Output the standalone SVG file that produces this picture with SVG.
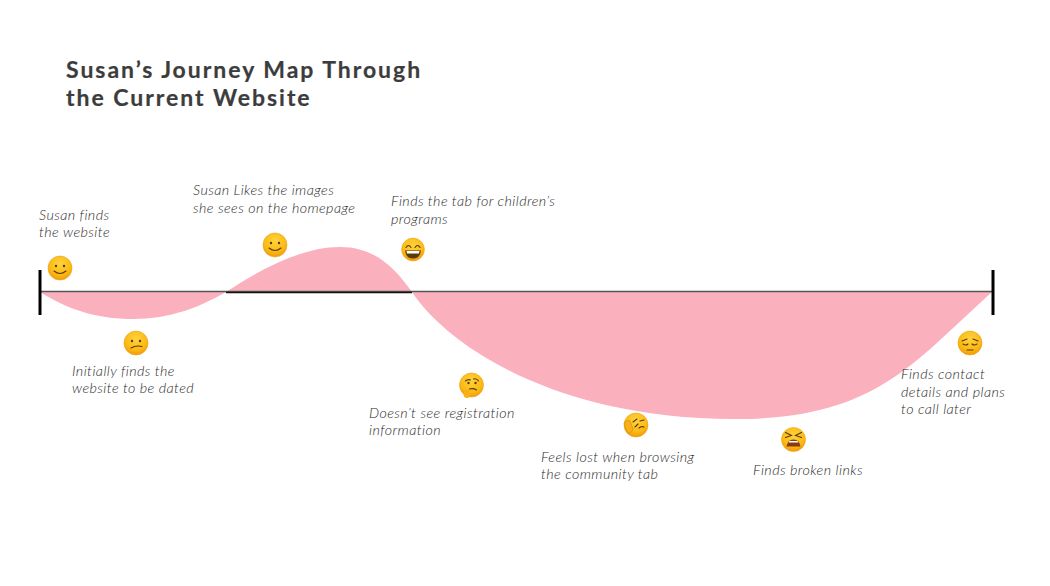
<svg xmlns="http://www.w3.org/2000/svg" width="1050" height="586" viewBox="0 0 1050 586">
<style>
.t{font-family:Lato,"Open Sans",sans-serif;font-size:23px;font-weight:700;fill:#3c3c3c;letter-spacing:1.97px;stroke:#3c3c3c;stroke-width:.2px}
.l{font-family:Lato,"Open Sans",sans-serif;font-size:14.3px;font-weight:300;font-style:italic;fill:#2a2a2a;letter-spacing:.42px}
.face{fill:url(#g);stroke:#eda312;stroke-width:.6}
.e{fill:#5a3a0c}
.s{fill:none;stroke:#5a3a0c;stroke-width:1.1;stroke-linecap:round}
</style>
<defs>
<radialGradient id="g" cx=".5" cy=".32" r=".72"><stop offset="0" stop-color="#ffd23e"/><stop offset=".65" stop-color="#fbb914"/><stop offset="1" stop-color="#ef9408"/></radialGradient>
<circle id="c" r="12" class="face"/>
</defs>
<rect width="1050" height="586" fill="#fff"/>
<g id="curve">
<path fill="#fbb0bd" d="M40 292C70 311 100 319 133 319C170 319 200 307 226 292C265 266 305 247 340 247C375 247 395 268 412 292C447 345 555 419 735 419C875 419 912 364 992 292Z"/>
</g>
<g id="connectors">
<line x1="40" y1="291.5" x2="992" y2="291.5" stroke="#555" stroke-width="1.3"/>
<line x1="226" y1="292.5" x2="412" y2="292.5" stroke="#111" stroke-width="1.6"/>
<line x1="40" y1="270" x2="40" y2="315" stroke="#000" stroke-width="3"/>
<line x1="993" y1="270" x2="993" y2="315" stroke="#000" stroke-width="3"/>
</g>
<g id="title"><text class="t" x="66" y="78">Susan’s Journey Map Through</text><text class="t" x="66" y="106">the Current Website</text></g>
<g id="n1"><text class="l" x="39" y="220">Susan finds</text><text class="l" x="39" y="237">the website</text>
<g transform="translate(60,268)"><use href="#c"/><circle class="e" cx="-4" cy="-2" r="1.2"/><circle class="e" cx="4" cy="-2" r="1.2"/><path class="s" d="M-6 3Q0 8 6 3"/></g></g>
<g id="n2"><text class="l" x="72" y="376">Initially finds the</text><text class="l" x="72" y="393">website to be dated</text>
<g transform="translate(136,343)"><use href="#c"/><circle class="e" cx="-4" cy="-2" r="1.2"/><circle class="e" cx="4" cy="-2" r="1.2"/><path class="s" d="M-5 5Q0 2 6 3.500"/></g></g>
<g id="n3"><text class="l" x="193" y="195">Susan Likes the images</text><text class="l" x="193" y="212.500">she sees on the homepage</text>
<g transform="translate(275,245)"><use href="#c"/><circle class="e" cx="-4" cy="-2" r="1.2"/><circle class="e" cx="4" cy="-2" r="1.2"/><path class="s" d="M-6 3Q0 8 6 3"/></g></g>
<g id="n4"><text class="l" x="391" y="206">Finds the tab for children’s</text><text class="l" x="391" y="224">programs</text>
<g transform="translate(413,249.500)"><use href="#c" transform="scale(.95)"/><path class="s" d="M-7-2Q-4.500-6-2-2M2-2Q4.500-6 7-2"/><path class="e" d="M-8 1H8Q7 9 0 9Q-7 9-8 1Z"/><path fill="#fff" d="M-6.500 1.500H6.500L6 4H-6Z"/></g></g>
<g id="n5"><text class="l" x="369" y="418">Doesn’t see registration</text><text class="l" x="369" y="435">information</text>
<g transform="translate(471.500,385)"><use href="#c"/><path class="s" d="M-6-4Q-4-6-1-5M2-6Q5-7 7-4"/><circle class="e" cx="-3" cy="-2" r="1.200"/><circle class="e" cx="4" cy="-2" r="1.200"/><path class="s" d="M-2 4Q2 3 5 5"/><ellipse cx="-4.500" cy="9" rx="3.500" ry="4" fill="#f7b018"/></g></g>
<g id="n6"><text class="l" x="541" y="462">Feels lost when browsing</text><text class="l" x="541" y="479">the community tab</text>
<g transform="translate(636,425)"><use href="#c"/><path class="s" d="M-3-3L1-6M4-4L8-5M-1 2L2-1M3 3Q5 1 8 2"/><path d="M-12-2Q-9-6-6-4L-3 4Q-5 10-9 7Z" fill="#f7b018" stroke="#c98a10" stroke-width=".6"/></g></g>
<g id="n7"><text class="l" x="753" y="475">Finds broken links</text>
<g transform="translate(793.500,439.500)"><use href="#c"/><path class="s" d="M-8-7L-2-4L-8-2M8-7L2-4L8-2"/><path fill="#8a3a12" d="M-7 7Q-6 0 0 0Q6 0 7 7Z"/><path fill="#fff" d="M-4 1.500H4L5 3H-5Z"/></g></g>
<g id="n8"><text class="l" x="901" y="379">Finds contact</text><text class="l" x="901" y="397">details and plans</text><text class="l" x="901" y="414">to call later</text>
<g transform="translate(970,343)"><use href="#c"/><path class="s" d="M-8-2L-3-4M8-2L3-4M-7 1Q-4 3-2 1M2 1Q4 3 7 1M-3 7H3"/></g></g>
</svg>
